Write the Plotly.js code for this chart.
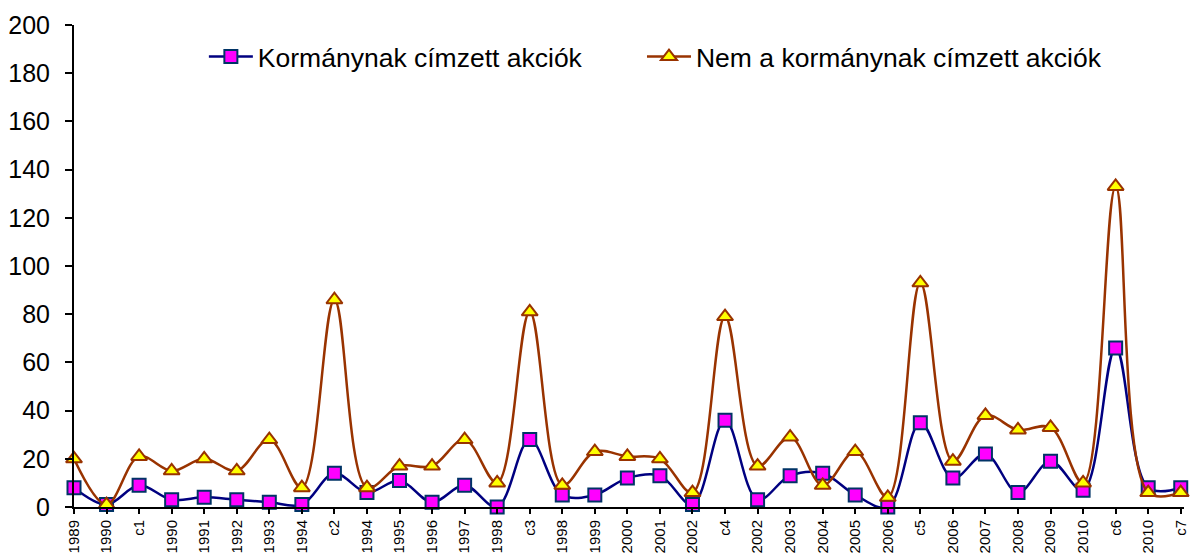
<!DOCTYPE html>
<html>
<head>
<meta charset="utf-8">
<script src="https://cdn.plot.ly/plotly-3.0.1.min.js"></script>
<style>html,body{margin:0;padding:0;background:#fff;}#chart{width:1190px;height:554px;}</style>
</head>
<body>
<div id="chart"></div>
<script>
var categories = ["1989","1990","c1","1990","1991","1992","1993","1994","c2","1994","1995","1996","1997","1998","c3","1998","1999","2000","2001","2002","c4","2002","2003","2004","2005","2006","c5","2006","2007","2008","2009","2010","c6","2010","c7"];
var kormanynak = [8,1,9,3,4,3,2,1,14,6,11,2,9,0,28,5,5,12,13,1,36,3,13,14,5,0,35,12,22,6,19,7,66,8,8];
var nemKormanynak = [20,1,21,15,20,15,28,8,86,8,17,17,28,10,81,9,23,21,20,6,79,17,29,9,23,4,93,19,38,32,33,10,133,6,6];
var seriesNames = ["Kormánynak címzett akciók","Nem a kormánynak címzett akciók"];

var xs = categories.map(function(_, i){ return i; });

var traces = [
  {
    x: xs, y: kormanynak, name: seriesNames[0], type: "scatter", mode: "lines+markers",
    line: {color: "#000080", width: 2.5, shape: "spline", smoothing: 1},
    marker: {symbol: "square", size: 13, color: "#FF00FF", line: {color: "#003366", width: 2}},
    cliponaxis: false, legend: "legend"
  },
  {
    x: xs, y: nemKormanynak, name: seriesNames[1], type: "scatter", mode: "lines+markers",
    line: {color: "#993300", width: 2.5, shape: "spline", smoothing: 1},
    marker: {symbol: "triangle-up", size: 14, color: "#FFFF00", line: {color: "#993300", width: 2}},
    cliponaxis: false, legend: "legend2"
  }
];

var legendFont = {size: 26.5, family: "Arial, Liberation Sans, sans-serif", color: "#000"};

var layout = {
  width: 1190, height: 554,
  margin: {l: 74, r: 6, t: 25, b: 47},
  paper_bgcolor: "#fff", plot_bgcolor: "#fff",
  font: {family: "Arial, Liberation Sans, sans-serif", color: "#000"},
  showlegend: true,
  legend: {orientation: "h", x: 0.117, y: 0.934, xanchor: "left", yanchor: "middle",
           font: legendFont, itemwidth: 44, bgcolor: "rgba(0,0,0,0)"},
  legend2: {orientation: "h", x: 0.5117, y: 0.934, xanchor: "left", yanchor: "middle",
           font: legendFont, itemwidth: 44, bgcolor: "rgba(0,0,0,0)"},
  xaxis: {
    range: [0, 34.1], tickmode: "array", tickvals: xs, ticktext: categories,
    tickangle: -90, tickfont: {size: 15}, showgrid: false, zeroline: false, ticklabelstandoff: 0,
    showline: true, linecolor: "#000", linewidth: 2, ticks: "outside", ticklen: 5, tickwidth: 2, tickcolor: "#000"
  },
  yaxis: {
    range: [0, 200], dtick: 20, tickfont: {size: 25}, showgrid: false, zeroline: false, ticklabelstandoff: 10,
    showline: true, linecolor: "#000", linewidth: 2, ticks: "outside", ticklen: 7, tickwidth: 2, tickcolor: "#000"
  }
};

Plotly.newPlot("chart", traces, layout, {displayModeBar: false, staticPlot: true});
</script>
</body>
</html>
